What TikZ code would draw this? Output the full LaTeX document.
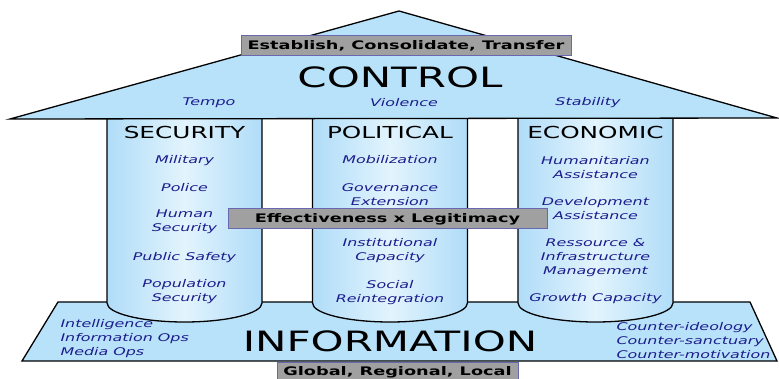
\documentclass[tikz,border=0pt]{standalone}
\usepackage{fontspec}
\setmainfont{DejaVu Sans}[FakeStretch=1.5]
\usetikzlibrary{positioning}
\definecolor{roofblue}{RGB}{184,226,250}
\definecolor{pilblue}{RGB}{176,220,248}
\definecolor{pillight}{RGB}{226,244,253}
\definecolor{itemblue}{RGB}{28,28,140}
\definecolor{boxgray}{RGB}{160,160,160}
\definecolor{boxedge}{RGB}{104,104,176}

\begin{document}
\begin{tikzpicture}[x=1pt,y=-1pt,
    %
    outline/.style={draw=black,line width=1.3pt},
    pillar/.style={outline,left color=pilblue,right color=pilblue,middle color=pillight},
    title/.style={font=\fontsize{16.5}{18}\selectfont},
    big/.style={font=\fontsize{28}{30}\selectfont},
    item/.style={text=itemblue,align=center,yshift=-1.5pt,font=\fontsize{10.6}{14}\itshape\selectfont},
    band/.style={draw=boxedge,fill=boxgray,line width=1pt,inner sep=0pt,
    font=\fontsize{11.8}{14}\bfseries\selectfont}]
    \useasboundingbox (0,0) rectangle (779,379);
    \draw[outline,fill=roofblue] (58,302) -- (750,302) -- (777,361) -- (22,361) -- cycle;
    \foreach \cx in {184.5,390,595.5}
        \draw[pillar] (\cx-77.5,119) -- (\cx-77.5,303)
            arc[start angle=180,end angle=0,x radius=77.5,y radius=19] -- (\cx+77.5,119);
    \draw[outline,fill=roofblue] (10,119) -- (399,11) -- (777,118) -- cycle;
    \node[band,minimum width=330pt,minimum height=20pt] (mission) at (406,46) {Establish, Consolidate, Transfer};
    \node[big] (control) at (400,77) {CONTROL};
    \node[item] (tempo) at (209,101) {Tempo};
    \node[item] (violence) at (404,101) {Violence};
    \node[item] (stability) at (588,101) {Stability};
    \node[title] (security) at (184.5,132.5) {SECURITY};
    \node[title] (political) at (390,132.5) {POLITICAL};
    \node[title] (economic) at (595.5,132.5) {ECONOMIC};
    \node[item] (military) at (184.5,159) {Military};
    \node[item] (police) at (184.5,186) {Police};
    \node[item] (human) at (184.5,220.5) {Human\\Security};
    \node[item] (safety) at (184.5,256) {Public Safety};
    \node[item] (population) at (184.5,290.5) {Population\\Security};
    \node[item] (mobilization) at (390,158) {Mobilization};
    \node[item] (governance) at (390,193) {Governance\\Extension};
    \node[item] (institutional) at (390,249) {Institutional\\Capacity};
    \node[item] (social) at (390,291) {Social\\Reintegration};
    \node[item] (humanitarian) at (595.5,166) {Humanitarian\\Assistance};
    \node[item] (development) at (595.5,207) {Development\\Assistance};
    \node[item] (ressource) at (595.5,256) {Ressource \&\\Infrastructure\\Management};
    \node[item] (growth) at (595.5,297) {Growth Capacity};
    \node[band,minimum width=319pt,minimum height=20pt] (legitimacy) at (387.5,219) {Effectiveness x Legitimacy};
    \node[big] (information) at (390,341) {INFORMATION};
    \node[item,align=left,anchor=west] (intel) at (57,337.5) {Intelligence\\Information Ops\\Media Ops};
    \node[item,align=left,anchor=west] (counter) at (613,339) {Counter-ideology\\Counter-sanctuary\\Counter-motivation};
    \node[band,minimum width=241pt,minimum height=20pt] (levels) at (397.5,372) {Global, Regional, Local};
\end{tikzpicture}
\end{document}
